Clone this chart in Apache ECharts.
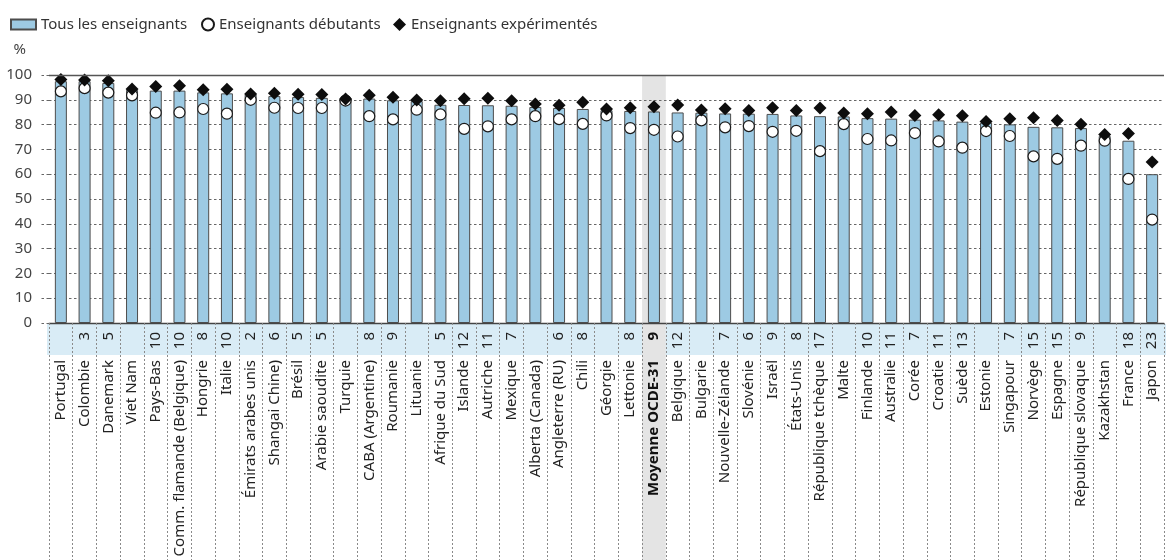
<!DOCTYPE html>
<html><head><meta charset="utf-8">
<script src="https://cdn.jsdelivr.net/npm/echarts@6/dist/echarts.min.js"></script>
<style>html,body{margin:0;padding:0;background:#fff}#c{width:1166px;height:560px}</style>
</head><body><div id="c"></div>
<script>
const categories = ['Portugal','Colombie','Danemark','Viet Nam','Pays-Bas','Comm. flamande (Belgique)','Hongrie','Italie','Émirats arabes unis','Shangai Chine)','Brésil','Arabie saoudite','Turquie','CABA (Argentine)','Roumanie','Lituanie','Afrique du Sud','Islande','Autriche','Mexique','Alberta (Canada)','Angleterre (RU)','Chili','Géorgie','Lettonie','Moyenne OCDE-31','Belgique','Bulgarie','Nouvelle-Zélande','Slovénie','Israël','États-Unis','République tchèque','Malte','Finlande','Australie','Corée','Croatie','Suède','Estonie','Singapour','Norvège','Espagne','République slovaque','Kazakhstan','France','Japon'];
const tous = [97.5,97.5,96.8,94.0,93.7,93.7,93.0,92.6,92.1,91.5,91.1,90.8,90.4,90.5,89.8,89.5,88.0,87.9,87.8,87.6,87.1,86.7,86.3,85.8,85.5,85.3,84.9,84.8,84.5,84.4,84.3,83.7,83.4,83.3,82.6,82.4,82.0,81.7,81.2,80.8,80.1,79.1,78.9,78.6,75.4,73.5,60.0];
const debutants = [93.4,94.7,92.9,91.8,84.8,84.9,86.3,84.4,90.0,86.8,86.7,86.7,89.7,83.4,82.1,86.0,84.1,78.3,79.3,82.1,83.4,82.2,80.3,83.7,78.6,77.9,75.2,81.7,78.9,79.4,77.1,77.5,69.3,80.2,74.2,73.6,76.6,73.2,70.7,77.4,75.4,67.2,66.2,71.5,73.5,58.1,41.7];
const experimentes = [98.2,98.0,97.7,94.4,95.4,95.7,94.1,94.3,92.3,92.6,92.2,92.1,90.3,91.8,91.0,89.9,89.6,90.4,90.6,89.6,88.3,87.8,89.0,86.3,86.8,87.2,87.9,85.9,86.4,85.7,86.8,85.7,86.7,84.7,84.4,85.1,83.7,84.0,83.6,81.3,82.4,82.8,81.7,80.1,76.0,76.4,64.9];
const differences = ['','3','5','','10','10','8','10','2','6','5','5','','8','9','','5','12','11','7','','6','8','','8','9','12','','7','6','9','8','17','','10','11','7','11','13','','7','15','15','9','','18','23'];
const seriesNames = ['Tous les enseignants','Enseignants débutants','Enseignants expérimentés'];
const highlight = 'Moyenne OCDE-31';

const FONT = '"Noto Sans", sans-serif';
const chart = echarts.init(document.getElementById('c'), null, {renderer:'canvas'});
const boldRich = {b:{fontWeight:'bold', fontSize:15, color:'#111', fontFamily:FONT}};
const legendText = {fontSize:15, color:'#333'};

const option = {
  animation:false,
  backgroundColor:'#ffffff',
  textStyle:{fontFamily:FONT},
  legend:[
    {left:5, top:12, itemWidth:25, itemHeight:10, itemGap:0, data:[{name:seriesNames[0], icon:'rect'}], textStyle:legendText, selectedMode:false},
    {left:196, top:12, itemWidth:12, itemHeight:12, itemGap:0, data:[seriesNames[1]], textStyle:legendText, selectedMode:false},
    {left:388, top:12, itemWidth:13, itemHeight:13, itemGap:0, data:[seriesNames[2]], textStyle:legendText, selectedMode:false}
  ],
  grid:{left:49, right:2, top:75, bottom:237},
  xAxis:[{
    type:'category', data:categories,
    axisLine:{lineStyle:{color:'#444', width:1.3}},
    axisTick:{show:true, interval:0, length:237, lineStyle:{color:'#8a8a8a', type:[2,2], width:1}},
    axisLabel:{interval:0, rotate:90, margin:37, fontSize:15, color:'#222',
      formatter:v => v===highlight ? '{b|'+v+'}' : v, rich:boldRich}
  },{
    type:'category', data:categories, position:'bottom',
    axisLine:{show:false}, axisTick:{show:false},
    axisLabel:{interval:0, rotate:90, margin:9, fontSize:15, color:'#222',
      formatter:(v,i) => v===highlight ? '{b|'+differences[i]+'}' : differences[i], rich:boldRich}
  }],
  yAxis:{
    type:'value', min:0, max:100, interval:10,
    name:'%', nameLocation:'end', nameGap:18,
    nameTextStyle:{fontSize:15, color:'#444', align:'right', padding:[0,23,0,0]},
    axisLine:{show:false},
    axisTick:{show:true, length:9, lineStyle:{color:'#666', type:[2.5,2.5]}},
    axisLabel:{fontSize:15, color:'#444', margin:17},
    splitLine:{lineStyle:{color:'#666', type:[2.5,2.5], width:1}}
  },
  series:[
    {name:seriesNames[0], type:'bar', data:tous, barWidth:12, z:2,
     itemStyle:{color:'#9dcae3', borderColor:'#4d4d4d', borderWidth:1},
     markLine:{symbol:'none', silent:true, label:{show:false}, lineStyle:{color:'#555', type:'solid', width:1.3},
       data:[{yAxis:100}]}},
    {name:seriesNames[1], type:'scatter', data:debutants, symbol:'circle', symbolSize:11, z:3,
     itemStyle:{color:'#ffffff', borderColor:'#1a1a1a', borderWidth:1.2, opacity:1}},
    {name:seriesNames[2], type:'scatter', data:experimentes, symbol:'diamond', symbolSize:13, z:4,
     itemStyle:{color:'#0d0d0d', opacity:1}}
  ]
};
chart.setOption(option);

const cx = chart.convertToPixel({xAxisIndex:0}, highlight);
const step = chart.convertToPixel({xAxisIndex:0}, categories[1]) - chart.convertToPixel({xAxisIndex:0}, categories[0]);
const x0 = chart.convertToPixel({xAxisIndex:0}, categories[0]) - step/2;
const yTop = chart.convertToPixel({yAxisIndex:0}, 100);
const yZero = chart.convertToPixel({yAxisIndex:0}, 0);
chart.setOption({
  graphic:[
    {type:'rect', z:-10, silent:true, shape:{x:x0-2, y:yZero+1, width:1166-x0+2, height:31}, style:{fill:'#d9ecf6'}},
    {type:'rect', z:-5, silent:true, shape:{x:cx-step/2, y:yTop, width:step, height:560-yTop}, style:{fill:'#e4e4e4'}}
  ]
});
</script></body></html>
